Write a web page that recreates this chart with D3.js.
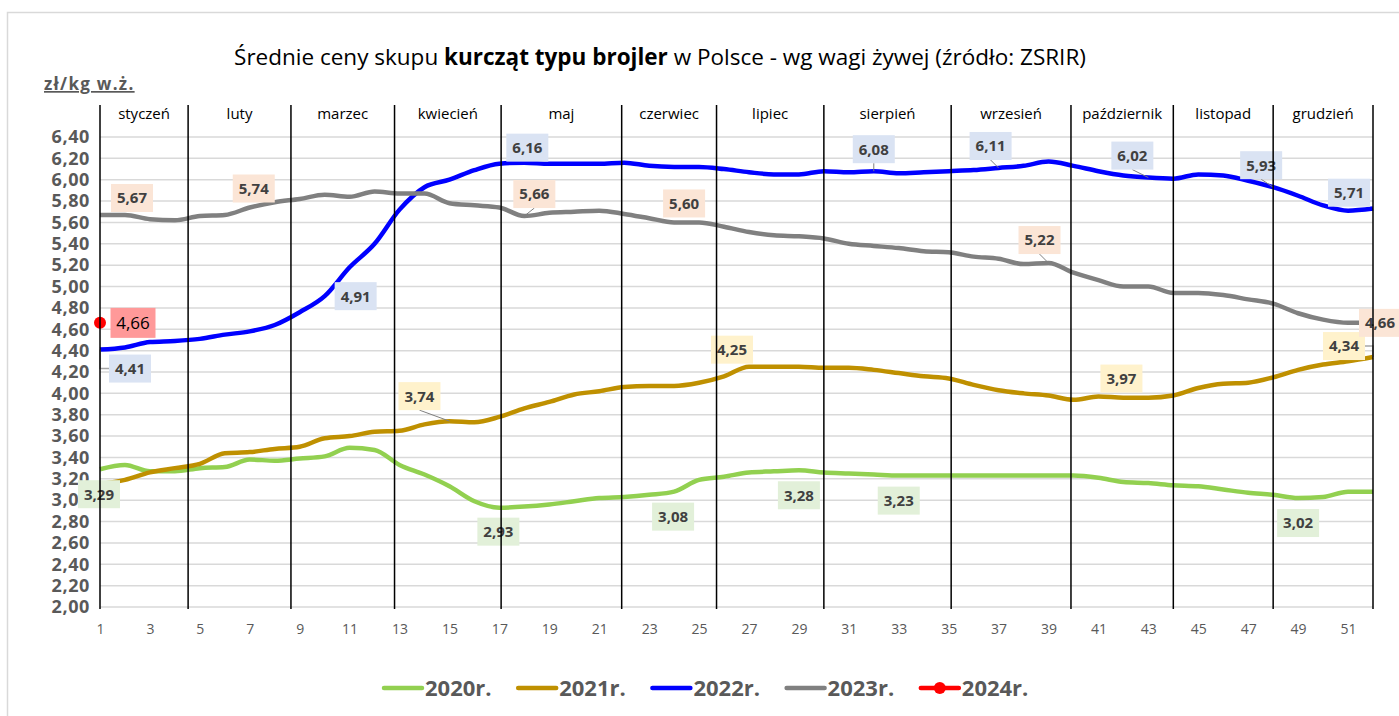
<!DOCTYPE html>
<html>
<head>
<meta charset="utf-8">
<script src="https://cdn.jsdelivr.net/npm/d3@7"></script>
<style>
body { margin: 0; background: #fff; }
text { font-family: "Open Sans", sans-serif; }
</style>
</head>
<body>
<script>
// weekly average prices, zl/kg live weight
var v2020 = [3.29,3.33,3.27,3.27,3.30,3.31,3.38,3.37,3.39,3.41,3.49,3.47,3.33,3.24,3.13,2.99,2.93,2.94,2.96,2.99,3.02,3.03,3.05,3.08,3.19,3.22,
             3.26,3.27,3.28,3.26,3.25,3.24,3.23,3.23,3.23,3.23,3.23,3.23,3.23,3.23,3.21,3.17,3.16,3.14,3.13,3.10,3.07,3.05,3.02,3.03,3.08,3.08];
var v2021 = [3.15,3.19,3.26,3.30,3.34,3.44,3.45,3.48,3.50,3.58,3.60,3.64,3.65,3.71,3.74,3.73,3.78,3.86,3.92,3.99,4.02,4.06,4.07,4.07,4.10,4.16,
             4.25,4.25,4.25,4.24,4.24,4.22,4.19,4.16,4.14,4.08,4.03,4.00,3.98,3.94,3.97,3.96,3.96,3.98,4.05,4.09,4.10,4.15,4.22,4.27,4.30,4.34];
var v2022 = [4.41,4.43,4.48,4.49,4.51,4.55,4.58,4.64,4.76,4.91,5.18,5.40,5.72,5.93,6.00,6.09,6.15,6.16,6.15,6.15,6.15,6.16,6.13,6.12,6.12,6.10,
             6.07,6.05,6.05,6.08,6.07,6.08,6.06,6.07,6.08,6.09,6.11,6.13,6.17,6.13,6.08,6.04,6.02,6.01,6.05,6.04,5.99,5.93,5.85,5.76,5.71,5.73];
var v2023 = [5.67,5.67,5.63,5.62,5.66,5.67,5.74,5.79,5.82,5.86,5.84,5.89,5.87,5.87,5.78,5.76,5.74,5.66,5.69,5.70,5.71,5.68,5.64,5.60,5.60,5.56,
             5.51,5.48,5.47,5.45,5.40,5.38,5.36,5.33,5.32,5.28,5.26,5.21,5.22,5.13,5.06,5.00,5.00,4.94,4.94,4.92,4.88,4.84,4.75,4.69,4.66,4.66];
var v2024 = [4.66];

// weeks that carry a value label
var lab2020 = [1, 17, 24, 29, 33, 49];
var lab2021 = [15, 27, 41, 52];
var lab2022 = [1, 10, 18, 32, 37, 43, 48, 51];
var lab2023 = [1, 7, 18, 24, 39, 52];
var lab2024 = [1];

var months = ["styczeń","luty","marzec","kwiecień","maj","czerwiec","lipiec","sierpień","wrzesień","październik","listopad","grudzień"];
var monthEdges = [1, 4.53, 8.65, 12.8, 17.07, 21.9, 25.7, 30.0, 35.1, 39.9, 44.0, 48.0, 52.0];
var years = ["2020r.", "2021r.", "2022r.", "2023r.", "2024r."];

var weekTicks = d3.range(1, 52, 2);
var priceTicks = d3.range(0, 23).map(function(i) { return 2 + i * 0.2; });

var fmt = function(v) { return d3.format(".2f")(v).replace(".", ","); };

var margin = {top: 137, right: 26, bottom: 109, left: 100};
var width = 1399 - margin.left - margin.right;
var height = 716 - margin.top - margin.bottom;

var series = [
    {name: years[0], values: v2020, color: "#92d050", fill: "#e2f0d9", labels: lab2020},
    {name: years[1], values: v2021, color: "#bf9000", fill: "#fff2cc", labels: lab2021},
    {name: years[2], values: v2022, color: "#0000ff", fill: "#dae3f3", labels: lab2022},
    {name: years[3], values: v2023, color: "#808080", fill: "#fbe5d6", labels: lab2023},
    {name: years[4], values: v2024, color: "#ff0000", fill: "#ff9999", labels: lab2024}
];

// label box offsets from the point (px) and leader style
var labelOffset = {
    "2020r.-1": [-1, 25], "2020r.-17": [-1, 24], "2020r.-24": [-1, 25], "2020r.-29": [0, 25], "2020r.-33": [0, 25], "2020r.-49": [0, 25],
    "2021r.-15": [-30, -25], "2021r.-27": [-17, -17], "2021r.-41": [23, -18], "2021r.-52": [-29, -11],
    "2022r.-1": [30, 19], "2022r.-10": [31, 0], "2022r.-18": [3, -15], "2022r.-32": [0, -22], "2022r.-37": [-8, -22],
    "2022r.-43": [-16, -22], "2022r.-48": [-12, -22], "2022r.-51": [1, -18],
    "2023r.-1": [32, -17], "2023r.-7": [4, -19], "2023r.-18": [10, -22], "2023r.-24": [10, -19], "2023r.-39": [-9, -23], "2023r.-52": [7, 0],
    "2024r.-1": [33, 0]
};
var leaders = {
    "2023r.-18": "bottom", "2023r.-39": "bottom", "2022r.-32": "bottom", "2022r.-37": "bottom", "2022r.-43": "bottom",
    "2022r.-48": "bottom", "2021r.-15": "bottom", "2022r.-1": "side", "2021r.-52": "side"
};

var svg = d3.select("body").append("svg")
    .attr("width", 1399)
    .attr("height", 716);

// chart frame
svg.append("path")
    .attr("d", "M7.5,716V12.5H1399")
    .attr("fill", "none")
    .attr("stroke", "#d9d9d9")
    .attr("stroke-width", 1.5);

var g = svg.append("g")
    .attr("transform", "translate(" + margin.left + "," + margin.top + ")");

var x = d3.scaleLinear().domain([1, 52]).range([0, width]);
var y = d3.scaleLinear().domain([2, 6.4]).range([height, 0]);

// gridlines
g.selectAll(".grid").data(priceTicks).enter()
    .append("line")
    .attr("x1", x(1))
    .attr("x2", x(52))
    .attr("y1", function(d) { return y(d); })
    .attr("y2", function(d) { return y(d); })
    .attr("stroke", "#d9d9d9")
    .attr("stroke-width", 1.5);

var yAxis = g.append("g")
    .call(d3.axisLeft(y).tickValues(priceTicks).tickSize(0).tickPadding(10).tickFormat(fmt));
yAxis.select(".domain").remove();
yAxis.selectAll("text")
    .style("font-family", "'Open Sans', sans-serif")
    .style("font-size", "18px")
    .style("font-weight", "bold")
    .style("letter-spacing", "0.6px")
    .attr("fill", "#595959");

var xAxis = g.append("g")
    .attr("transform", "translate(0," + height + ")")
    .call(d3.axisBottom(x).tickValues(weekTicks).tickSize(0).tickPadding(17).tickFormat(d3.format("d")));
xAxis.select(".domain").remove();
xAxis.selectAll("text")
    .style("font-family", "'Open Sans', sans-serif")
    .style("font-size", "14px")
    .attr("fill", "#595959");

// lines
var line = d3.line()
    .x(function(d, i) { return x(i + 1); })
    .y(function(d) { return y(d); })
    .curve(d3.curveMonotoneX);

series.slice(0, 4).forEach(function(s) {
    g.append("path")
        .datum(s.values)
        .attr("fill", "none")
        .attr("stroke", s.color)
        .attr("stroke-width", 4.5)
        .attr("stroke-linejoin", "round")
        .attr("d", line);
});

g.append("circle")
    .attr("cx", x(1))
    .attr("cy", y(v2024[0]))
    .attr("r", 6)
    .attr("fill", "#ff0000");

// data labels
series.forEach(function(s) {
    s.labels.forEach(function(w) {
        var key = s.name + "-" + w;
        var v = s.values[w - 1];
        var px = x(w), py = y(v);
        var off = labelOffset[key];
        var cx = px + off[0], cy = py + off[1];
        var bw = s.name === "2024r." ? 45 : 42, bh = s.name === "2024r." ? 30 : 28;
        if (leaders[key] === "bottom") {
            g.append("line")
                .attr("x1", cx).attr("y1", cy + bh / 2)
                .attr("x2", px).attr("y2", py)
                .attr("stroke", "#7f7f7f").attr("stroke-width", 1);
        } else if (leaders[key] === "side") {
            var sx = off[0] > 0 ? cx - bw / 2 : cx + bw / 2;
            g.append("polyline")
                .attr("points", [[sx, cy], [px, cy], [px, py]].join(" "))
                .attr("fill", "none")
                .attr("stroke", "#a6a6a6").attr("stroke-width", 1.5);
        }
        g.append("rect")
            .attr("x", cx - bw / 2)
            .attr("y", cy - bh / 2)
            .attr("width", bw)
            .attr("height", bh)
            .attr("fill", s.fill);
        g.append("text")
            .attr("x", cx)
            .attr("y", cy)
            .attr("dy", "0.36em")
            .attr("text-anchor", "middle")
            .style("font-size", s.name === "2024r." ? "17px" : "15px")
            .style("font-weight", s.name === "2024r." ? "normal" : "bold")
            .attr("fill", s.name === "2024r." ? "#000" : "#404040")
            .text(fmt(v));
    });
});

// month dividers and names
g.selectAll(".divider").data(monthEdges).enter()
    .append("line")
    .attr("x1", function(d) { return x(d); })
    .attr("x2", function(d) { return x(d); })
    .attr("y1", -32)
    .attr("y2", height + 2)
    .attr("stroke", "#000")
    .attr("stroke-width", 1.5);

g.selectAll(".month").data(months).enter()
    .append("text")
    .attr("x", function(d, i) { return x((monthEdges[i] + monthEdges[i + 1]) / 2); })
    .attr("y", -18)
    .attr("text-anchor", "middle")
    .style("font-size", "15px")
    .attr("fill", "#000")
    .text(function(d) { return d; });

// unit label
svg.append("text")
    .attr("x", 44)
    .attr("y", 90)
    .style("font-size", "17px")
    .style("font-weight", "bold")
    .style("letter-spacing", "1.3px")
    .style("text-decoration", "underline")
    .attr("fill", "#595959")
    .text("zł/kg w.ż.");

// title
var title = svg.append("text")
    .attr("x", 660)
    .attr("y", 65)
    .attr("text-anchor", "middle")
    .style("font-size", "22.5px")
    .attr("fill", "#000");
title.append("tspan").text("Średnie ceny skupu ");
title.append("tspan").style("font-weight", "bold").text("kurcząt typu brojler");
title.append("tspan").text(" w Polsce - wg wagi żywej (źródło: ZSRIR)");

// legend
var legend = svg.append("g")
    .attr("transform", "translate(384,688)");

var item = legend.selectAll("g").data(series).enter()
    .append("g")
    .attr("transform", function(d, i) { return "translate(" + (i * 134.2) + ",0)"; });

item.append("line")
    .attr("x1", 0).attr("x2", 38)
    .attr("stroke", function(d) { return d.color; })
    .attr("stroke-width", 4.5)
    .attr("stroke-linecap", "round");

item.filter(function(d) { return d.name === "2024r."; })
    .append("circle")
    .attr("cx", 19)
    .attr("r", 6)
    .attr("fill", "#ff0000");

item.append("text")
    .attr("x", 41)
    .attr("dy", "0.36em")
    .style("font-size", "22px")
    .style("font-weight", "bold")
    .attr("fill", "#595959")
    .text(function(d) { return d.name; });
</script>
</body>
</html>
